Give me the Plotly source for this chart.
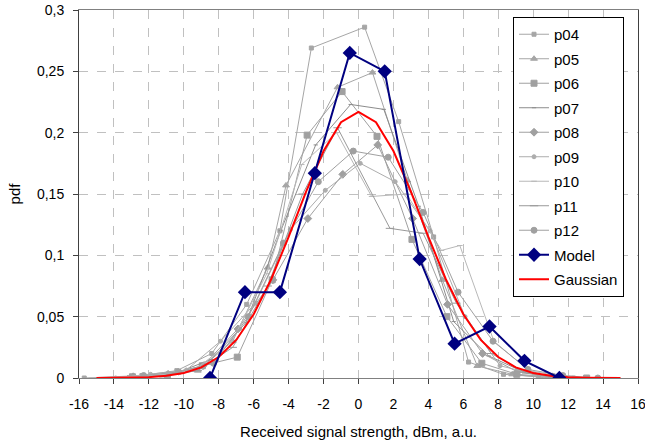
import plotly.graph_objects as go

# ---------------- data ----------------
p04_x = [-15.7, -12.4, -10.4, -8.4, -6.4, -4.5, -2.7, 0.35, 2.3, 4.3, 6.3, 8.3, 10.3, 12.3]
p04_y = [0.0, 0.002, 0.006, 0.02, 0.06, 0.12, 0.269, 0.286, 0.209, 0.115, 0.013, 0.003, 0.001, 0.0]

p05_x = [-13.2, -11.2, -9.2, -7.2, -5.2, -4.15, -1.2, 0.8, 2.8, 4.8, 6.8, 8.8, 10.8]
p05_y = [0.0, 0.002, 0.006, 0.03, 0.09, 0.157, 0.237, 0.249, 0.161, 0.08, 0.0098, 0.003, 0.0]

p06_x = [-12.94, -10.94, -8.94, -6.94, -4.94, -2.94, -0.94, 1.06, 3.06, 5.06, 7.06, 9.06, 11.06, 13.06]
p06_y = [0.001, 0.002, 0.01, 0.017, 0.08, 0.198, 0.2335, 0.197, 0.113, 0.05, 0.012, 0.003, 0.001, 0.0]

p07_x = [-14.45, -12.45, -10.45, -8.45, -6.45, -4.45, -2.45, -0.45, 1.45, 3.45, 5.45, 7.45, 9.45, 11.45, 13.45]
p07_y = [0.0, 0.001, 0.004, 0.015, 0.045, 0.12, 0.19, 0.223, 0.219, 0.14, 0.046, 0.018, 0.005, 0.001, 0.0]

p08_x = [-12.9, -10.9, -8.9, -6.9, -4.9, -2.9, -0.9, 1.1, 3.1, 5.1, 7.1, 9.1, 11.1]
p08_y = [0.001, 0.003, 0.01, 0.04, 0.08, 0.13, 0.166, 0.19, 0.13, 0.06, 0.02, 0.005, 0.001]

p09_x = [-13.9, -11.9, -9.85, -7.9, -5.9, -3.9, -1.9, 0.1, 2.1, 4.1, 6.1, 8.1, 10.1, 12.1]
p09_y = [0.0, 0.003, 0.0065, 0.03, 0.061, 0.121, 0.153, 0.175, 0.16, 0.12, 0.05, 0.01, 0.003, 0.0]

p10_x = [-15.25, -13.25, -11.25, -9.25, -7.25, -5.25, -3.25, -1.25, 0.75, 2.75, 4.75, 5.8, 7.75, 9.75, 11.75]
p10_y = [0.0, 0.001, 0.003, 0.008, 0.03, 0.085, 0.174, 0.2, 0.148, 0.15, 0.104, 0.108, 0.03, 0.006, 0.001]

p11_x = [-13.2, -11.2, -9.2, -7.2, -5.2, -3.2, -1.2, 1.8, 3.7, 5.6, 7.6, 9.6, 11.6]
p11_y = [0.0, 0.002, 0.006, 0.025, 0.075, 0.15, 0.204, 0.122, 0.118, 0.061, 0.02, 0.004, 0.0]

p12_x = [-12.3, -10.3, -8.3, -6.3, -4.3, -2.3, -0.3, 1.7, 3.7, 5.7, 7.7, 9.7, 11.7, 13.7]
p12_y = [0.002, 0.005, 0.012, 0.05, 0.11, 0.16, 0.185, 0.18, 0.135, 0.07, 0.03, 0.007, 0.002, 0.0]

model_x = [-8.5, -6.5, -4.5, -2.5, -0.5, 1.5, 3.5, 5.5, 7.5, 9.5, 11.5]
model_y = [0.0, 0.07, 0.07, 0.167, 0.265, 0.25, 0.097, 0.028, 0.042, 0.014, 0.0]

gauss_x = [-15, -14, -13, -12, -11, -10, -9, -8, -7, -6, -5, -4, -3, -2, -1, 0,
           1, 2, 3, 4, 5, 6, 7, 8, 9, 10, 11, 12, 13, 14, 15]
gauss_y = [0.0, 0.0001, 0.0003, 0.0007, 0.0018, 0.0041, 0.0087, 0.0171, 0.031, 0.052,
           0.0805, 0.115, 0.152, 0.185, 0.2086, 0.217, 0.2086, 0.185, 0.152, 0.115,
           0.0805, 0.052, 0.031, 0.0171, 0.0087, 0.0041, 0.0018, 0.0007, 0.0003, 0.0001, 0.0]

x_tick_vals = [-16, -14, -12, -10, -8, -6, -4, -2, 0, 2, 4, 6, 8, 10, 12, 14, 16]
x_tick_text = ["-16", "-14", "-12", "-10", "-8", "-6", "-4", "-2", "0",
               "2", "4", "6", "8", "10", "12", "14", "16"]

series = [
    ("p04", p04_x, p04_y, "#a6a6a6", "square", 4),
    ("p05", p05_x, p05_y, "#a6a6a6", "triangle-up", 6),
    ("p06", p06_x, p06_y, "#a0a0a0", "square", 6),
    ("p07", p07_x, p07_y, "#8c8c8c", "line-ew", 3),
    ("p08", p08_x, p08_y, "#a0a0a0", "diamond", 6),
    ("p09", p09_x, p09_y, "#adadad", "circle", 4),
    ("p10", p10_x, p10_y, "#b8b8b8", "line-ew", 4),
    ("p11", p11_x, p11_y, "#999999", "line-ew", 6),
    ("p12", p12_x, p12_y, "#a0a0a0", "circle", 6),
]

fig = go.Figure()
for i, (name, xs, ys, col, sym, sz) in enumerate(series):
    fig.add_trace(go.Scatter(
        x=xs, y=ys, name=name, mode="lines+markers",
        line=dict(color=col, width=1),
        marker=dict(symbol=sym, size=sz, color=col, line=dict(color=col, width=1)),
        legendgroup=name, legendrank=i + 1,
    ))

fig.add_trace(go.Scatter(
    x=gauss_x, y=gauss_y, name="Gaussian", mode="lines",
    line=dict(color="#ff0000", width=2), legendgroup="g", legendrank=11,
))
fig.add_trace(go.Scatter(
    x=model_x, y=model_y, name="Model", mode="lines+markers",
    line=dict(color="#000080", width=2),
    marker=dict(symbol="diamond", size=11, color="#000080"),
    legendgroup="m", legendrank=10,
))

fig.update_layout(
    width=645, height=447,
    margin=dict(l=79, r=7, t=10, b=69),
    paper_bgcolor="white", plot_bgcolor="white",
    separators=", ",
    font=dict(family="Liberation Sans, Arial, sans-serif", size=14, color="black"),
    showlegend=True,
    legend=dict(
        x=0.975, y=0.981, xanchor="right", yanchor="top",
        bgcolor="white", bordercolor="black", borderwidth=1,
        font=dict(size=15), itemwidth=30, tracegroupgap=2,
    ),
)
fig.update_xaxes(
    range=[-16, 16], tickvals=x_tick_vals, ticktext=x_tick_text,
    showgrid=True, gridcolor="#c0c0c0", griddash="dash", gridwidth=1,
    zeroline=False, showline=True, linecolor="#808080", linewidth=1, mirror=True,
    ticks="outside", ticklen=5, tickcolor="#404040", ticklabelstandoff=8,
    ticklabeloverflow="allow", automargin=False,
    title=dict(text="Received signal strength, dBm, a.u.", font=dict(size=15), standoff=15),
)
fig.update_yaxes(
    range=[0, 0.3], dtick=0.05,
    showgrid=True, gridcolor="#c0c0c0", griddash="dash", gridwidth=1,
    zeroline=False, showline=True, linecolor="#404040", linewidth=1, mirror=True,
    ticks="outside", ticklen=5, tickcolor="#404040", ticklabelstandoff=6,
    ticklabeloverflow="allow", automargin=False,
    title=dict(text="pdf", font=dict(size=15), standoff=12),
)

fig.write_html("out.html")
